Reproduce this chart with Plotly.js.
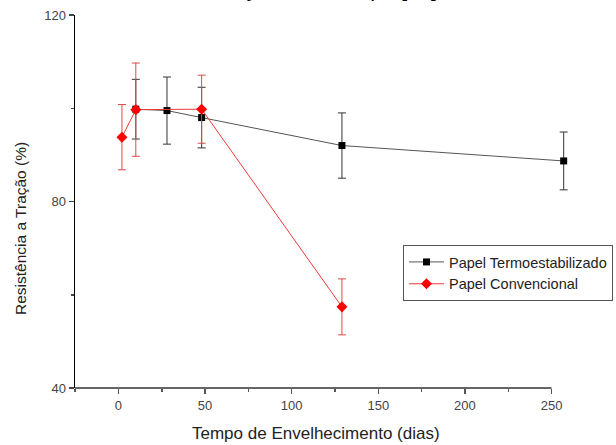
<!DOCTYPE html>
<html>
<head>
<meta charset="utf-8">
<script src="https://cdn.plot.ly/plotly-3.0.1.min.js"></script>
<style>html,body{margin:0;padding:0;background:#fff;}#chart{width:616px;height:445px;}</style>
</head>
<body>
<div id="chart"></div>
<script>
// Papel Termoestabilizado (black squares)
const termoDays = [10, 28, 48, 129, 257];
const termoValues = [99.8, 99.5, 98.0, 92.0, 88.7];
const termoErrors = [6.4, 7.2, 6.5, 7.0, 6.2];

// Papel Convencional (red diamonds)
const convDays = [2, 10, 48, 129];
const convValues = [93.8, 99.7, 99.8, 57.4];
const convErrors = [7.0, 10.0, 7.3, 6.0];

const seriesNames = ["Papel Termoestabilizado", "Papel Convencional"];
const xTitle = "Tempo de Envelhecimento (dias)";
const yTitle = "Resistência a Tração (%)";
const topTitle = "Tração e do tempo [ºC]";
const xTickVals = [0, 50, 100, 150, 200, 250];
const xMinorTickVals = [-25, 25, 75, 125, 175, 225];
const yTickVals = [40, 80, 120];
const yMinorTickVals = [60, 100];

const font = "Liberation Sans, Arial, sans-serif";
const W = 616, H = 445, ML = 75, MT = 15, MB = 57;
const plotW = W - ML, plotH = H - MT - MB;

const traces = [
  {
    x: termoDays, y: termoValues, name: seriesNames[0],
    type: "scatter", mode: "lines+markers",
    line: {color: "#555555", width: 1},
    marker: {symbol: "square", size: 7, color: "#000000"},
    error_y: {type: "data", array: termoErrors, visible: true, color: "#333333", thickness: 1, width: 4},
    cliponaxis: false
  },
  {
    x: convDays, y: convValues, name: seriesNames[1],
    type: "scatter", mode: "lines+markers",
    line: {color: "#ee3a3a", width: 1},
    marker: {symbol: "diamond", size: 8.5, color: "#ff0000"},
    error_y: {type: "data", array: convErrors, visible: true, color: "#e04848", thickness: 1, width: 4},
    cliponaxis: false
  }
];

const layout = {
  width: W, height: H,
  paper_bgcolor: "#ffffff", plot_bgcolor: "#ffffff",
  margin: {l: ML, r: 0, t: MT, b: MB},
  font: {family: font, color: "#333333"},
  showlegend: true,
  legend: {
    x: (403 - ML) / plotW, y: (388 - 245) / plotH, xanchor: "left", yanchor: "top",
    bgcolor: "#ffffff", bordercolor: "#555555", borderwidth: 1,
    font: {family: font, size: 14.5, color: "#222222"},
    itemwidth: 35, tracegroupgap: 0
  },
  xaxis: {
    range: [-25.1, 287.2],
    tickmode: "array", tickvals: xTickVals,
    ticks: "outside", ticklen: 5, tickwidth: 1.5, tickcolor: "#555555",
    minor: {tickmode: "array", tickvals: xMinorTickVals, ticks: "outside", ticklen: 3, tickcolor: "#555555", tickwidth: 1.5},
    showline: false, showgrid: false, zeroline: false,
    tickfont: {family: font, size: 13, color: "#444444"},
    automargin: false
  },
  yaxis: {
    range: [40, 120],
    tickmode: "array", tickvals: yTickVals,
    ticks: "outside", ticklen: 5, tickwidth: 1.5, tickcolor: "#444444",
    minor: {tickmode: "array", tickvals: yMinorTickVals, ticks: "outside", ticklen: 3, tickcolor: "#444444", tickwidth: 1.5},
    showline: true, linecolor: "#000000", linewidth: 1.5,
    showgrid: false, zeroline: false,
    tickfont: {family: font, size: 13, color: "#444444"},
    automargin: false
  },
  shapes: [
    {type: "line", xref: "x", yref: "paper", x0: -25.1, x1: 250, y0: 0, y1: 0,
     line: {color: "#666666", width: 2}}
  ],
  annotations: [
    {text: topTitle, xref: "paper", yref: "paper", x: (323.5 - ML) / plotW, y: 1, xanchor: "center", yanchor: "bottom",
     yshift: 12, showarrow: false, font: {family: font, size: 22, color: "#000000"}},
    {text: xTitle, xref: "paper", yref: "paper", x: (316 - ML) / plotW, y: 1 - (433 - MT) / plotH,
     xanchor: "center", yanchor: "middle", showarrow: false,
     font: {family: font, size: 17, color: "#222222"}},
    {text: yTitle, xref: "paper", yref: "paper", x: (20 - ML) / plotW, y: 1 - (229 - MT) / plotH,
     xanchor: "center", yanchor: "middle", textangle: -90, showarrow: false,
     font: {family: font, size: 15.5, color: "#222222"}}
  ]
};

Plotly.newPlot("chart", traces, layout, {displayModeBar: false, staticPlot: true});
</script>
</body>
</html>
